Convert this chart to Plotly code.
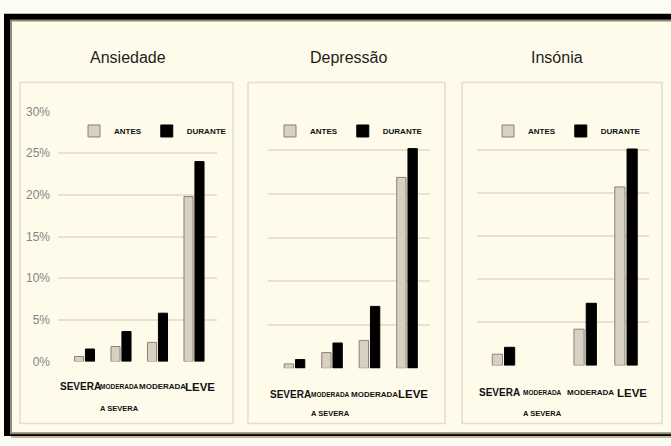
import plotly.graph_objects as go

W, H = 671, 446

categories = ["SEVERA", "MODERADA A SEVERA", "MODERADA", "LEVE"]
panel_titles = ["Ansiedade", "Depressão", "Insónia"]
series_names = ["ANTES", "DURANTE"]

ansiedade_antes = [0.6, 1.8, 2.3, 19.8]
ansiedade_durante = [1.5, 3.6, 5.8, 24.0]
depressao_antes = [0.5, 1.8, 3.2, 21.9]
depressao_durante = [1.0, 2.9, 7.1, 25.2]
insonia_antes = [1.3, None, 4.2, 20.7]
insonia_durante = [2.1, None, 7.2, 25.1]

y_tick_vals = [0, 5, 10, 15, 20, 25, 30]
y_tick_text = ["0%", "5%", "10%", "15%", "20%", "25%", "30%"]

CREAM = "#fefbea"
GRID = "#e9e0cd"
ANTES_FILL = "#d9d0c4"
ANTES_LINE = "#8a8276"
SANS = "Liberation Sans, Arial, sans-serif"


def px(x):
    return x / W


def py(y):
    return 1 - y / H


# plot-area geometry (pixels) per panel: x0, x1, y_bottom(0%), y_top(30%)
panels = [
    (58, 217, 366, 108),
    (268, 430, 373, 103),
    (477, 649, 370, 103),
]
boxes = [(20, 233), (248, 445), (462, 662)]
title_x = [128, 348, 557]
legend_right = [232, 428, 646]
label_rows = [(392, 415), (400, 420), (398, 420)]

data = [
    (ansiedade_antes, ansiedade_durante),
    (depressao_antes, depressao_durante),
    (insonia_antes, insonia_durante),
]

fig = go.Figure()
legend_ids = ["legend", "legend2", "legend3"]

for i, (antes, durante) in enumerate(data):
    xa = "x" if i == 0 else f"x{i+1}"
    ya = "y" if i == 0 else f"y{i+1}"
    fig.add_trace(go.Bar(
        x=categories, y=antes, name=series_names[0], xaxis=xa, yaxis=ya,
        marker=dict(color=ANTES_FILL, line=dict(color=ANTES_LINE, width=1)),
        legend=legend_ids[i],
    ))
    fig.add_trace(go.Bar(
        x=categories, y=durante, name=series_names[1], xaxis=xa, yaxis=ya,
        marker=dict(color="#000000", line=dict(color="#000000", width=1)),
        legend=legend_ids[i],
    ))

layout = dict(
    width=W, height=H,
    margin=dict(l=0, r=0, t=0, b=0),
    paper_bgcolor="#fdfcf4",
    plot_bgcolor="rgba(0,0,0,0)",
    barmode="group",
    bargap=0.4,
    bargroupgap=0.17,
    showlegend=True,
)

annotations = []
shapes = []

# outer frame: black band on top and left, cream sheet with olive edge
shapes.append(dict(type="rect", xref="paper", yref="paper",
                   x0=px(4), x1=px(680), y0=py(443), y1=py(7),
                   fillcolor="#000000", line=dict(width=0), layer="below"))
shapes.append(dict(type="rect", xref="paper", yref="paper",
                   x0=px(11), x1=px(680), y0=py(440), y1=py(14),
                   fillcolor=CREAM, line=dict(color="#8d8973", width=2), layer="below"))
shapes.append(dict(type="line", xref="paper", yref="paper",
                   x0=px(11), x1=px(680), y0=py(444), y1=py(444),
                   line=dict(color="#a8a48f", width=1.5), layer="below"))

# category label specs: text, font size, horizontal nudge (px)
label_specs = [
    ("SEVERA", 10, -4),
    ("MODERADA", 6.5, -2),
    ("MODERADA", 8, 5),
    ("LEVE", 11.5, 6),
]

for i, (x0, x1, yb, yt) in enumerate(panels):
    n = "" if i == 0 else str(i + 1)
    layout[f"xaxis{n}"] = dict(
        domain=[px(x0), px(x1)], anchor=f"y{n}",
        showticklabels=False, showgrid=False, zeroline=False,
        showline=False, ticks="", fixedrange=True,
    )
    layout[f"yaxis{n}"] = dict(
        domain=[py(yb), py(yt)], anchor=f"x{n}",
        range=[0, 30], tickvals=y_tick_vals,
        ticktext=y_tick_text if i == 0 else None,
        showticklabels=(i == 0),
        tickfont=dict(family=SANS, size=12, color="#858585"),
        ticklabelstandoff=7,
        showgrid=True, gridcolor=GRID, gridwidth=1.5,
        zeroline=False, showline=False, ticks="", fixedrange=True,
    )
    bx0, bx1 = boxes[i]
    shapes.append(dict(type="rect", xref="paper", yref="paper",
                       x0=px(bx0), x1=px(bx1), y0=py(430), y1=py(78),
                       fillcolor=CREAM, line=dict(color="#e6ddcc", width=1.5),
                       layer="below"))
    annotations.append(dict(
        text=panel_titles[i], xref="paper", yref="paper",
        x=px(title_x[i]), y=py(52), xanchor="center", yanchor="middle",
        showarrow=False, font=dict(family=SANS, size=16, color="#1e1e1e"),
    ))
    lid = legend_ids[i]
    layout[lid] = dict(
        orientation="h", x=px(legend_right[i]), xanchor="right",
        y=py(128), yanchor="middle", bgcolor="rgba(0,0,0,0)",
        font=dict(family=SANS, size=8, color="#111111", weight="bold"),
        itemwidth=30, tracegroupgap=0,
    )
    xr = f"x{n}"
    r1, r2 = label_rows[i]
    for cat, (txt, fs, dx) in zip(categories, label_specs):
        annotations.append(dict(
            text=f"<b>{txt}</b>", xref=xr, yref="paper", x=cat, y=py(r1),
            xanchor="center", yanchor="middle", showarrow=False, xshift=dx,
            font=dict(family=SANS, size=fs, color="#111111"),
        ))
    annotations.append(dict(
        text="<b>A SEVERA</b>", xref=xr, yref="paper", x=categories[1], y=py(r2),
        xanchor="center", yanchor="middle", showarrow=False, xshift=-2,
        font=dict(family=SANS, size=7.5, color="#111111"),
    ))

layout["annotations"] = annotations
layout["shapes"] = shapes
fig.update_layout(**layout)

fig.write_html("out.html")
